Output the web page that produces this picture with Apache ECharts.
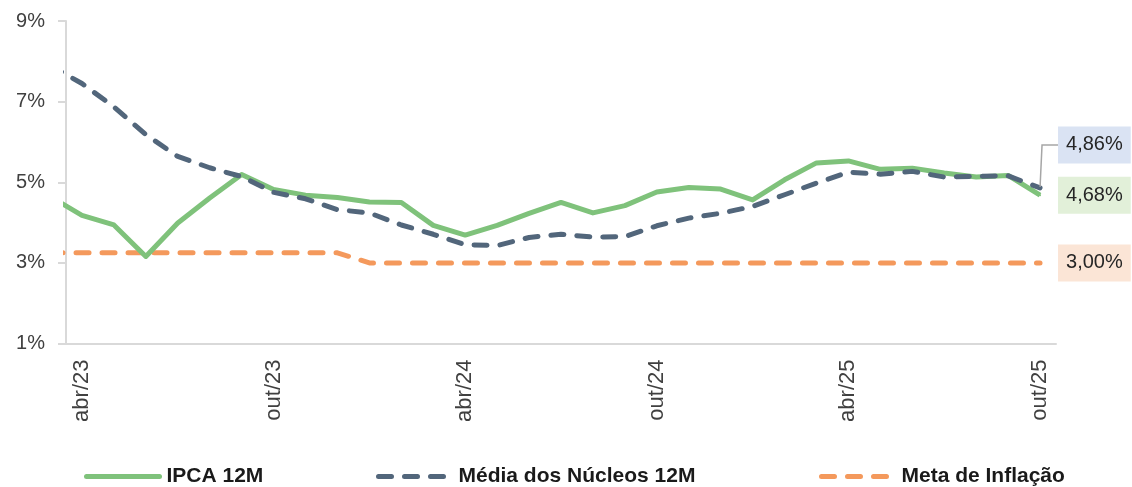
<!DOCTYPE html>
<html>
<head>
<meta charset="utf-8">
<script src="https://cdn.jsdelivr.net/npm/echarts@6/dist/echarts.min.js"></script>
<style>
    html, body { margin: 0; padding: 0; background: #fff; }
    #chart { width: 1132px; height: 487px; }
</style>
</head>
<body>
<div id="chart"></div>
<script>
    // meses do eixo (abr/23 .. out/25)
    const months = ['abr/23', 'mai/23', 'jun/23', 'jul/23', 'ago/23', 'set/23', 'out/23', 'nov/23', 'dez/23',
        'jan/24', 'fev/24', 'mar/24', 'abr/24', 'mai/24', 'jun/24', 'jul/24', 'ago/24', 'set/24', 'out/24', 'nov/24', 'dez/24',
        'jan/25', 'fev/25', 'mar/25', 'abr/25', 'mai/25', 'jun/25', 'jul/25', 'ago/25', 'set/25', 'out/25'];

    const ipca = [4.18, 3.94, 3.16, 3.99, 4.61, 5.19, 4.82, 4.68, 4.62, 4.51, 4.50, 3.93, 3.69, 3.93, 4.23, 4.50,
        4.24, 4.42, 4.76, 4.87, 4.83, 4.56, 5.06, 5.48, 5.53, 5.32, 5.35, 5.23, 5.13, 5.17, 4.68];
    const nucleos = [7.45, 6.87, 6.18, 5.64, 5.36, 5.14, 4.75, 4.59, 4.32, 4.24, 3.94, 3.71, 3.45, 3.43, 3.63, 3.71,
        3.64, 3.65, 3.92, 4.11, 4.23, 4.40, 4.69, 4.98, 5.25, 5.20, 5.27, 5.13, 5.15, 5.16, 4.86];
    const meta = [3.25, 3.25, 3.25, 3.25, 3.25, 3.25, 3.25, 3.25, 3.25,
        3.00, 3.00, 3.00, 3.00, 3.00, 3.00, 3.00, 3.00, 3.00, 3.00, 3.00, 3.00,
        3.00, 3.00, 3.00, 3.00, 3.00, 3.00, 3.00, 3.00, 3.00, 3.00];

    // mar/23 (fora do eixo, a linha é cortada na borda)
    const ipcaMar23 = 4.65;
    const nucleosMar23 = 7.89;
    const metaMar23 = 3.25;

    const yTicks = [1, 9, 2]; // min, max, intervalo

    const font = 'Liberation Sans';

    function buildData(first, arr, labelBg) {
        let d = [[-1, first]];
        arr.forEach((v, i) => {
            if (i === arr.length - 1) {
                d.push({
                    value: [i, v],
                    symbol: 'circle',
                    symbolSize: 2,
                    label: { show: true, backgroundColor: labelBg }
                });
            } else {
                d.push([i, v]);
            }
        });
        return d;
    }

    let endLabel = {
        show: false,
        position: 'right',
        distance: 17,
        formatter: p => p.value[1].toFixed(2).replace('.', ',') + '%',
        fontFamily: font,
        fontSize: 20,
        lineHeight: 21,
        color: '#262626',
        padding: [8, 8, 8, 8]
    };

    let chart = echarts.init(document.getElementById('chart'));

    let legendBase = {
        top: 466,
        itemWidth: 73,
        itemHeight: 14,
        padding: 0,
        itemStyle: { opacity: 0 },
        lineStyle: { width: 5, cap: 'round' },
        textStyle: { fontFamily: font, fontSize: 21, fontWeight: 'bold', color: '#1a1a1a', padding: [0, 0, 0, 2] }
    };

    let option = {
        animation: false,
        textStyle: { fontFamily: font },
        grid: { left: 66, top: 21, right: 76, bottom: 143.5 },
        legend: [
            Object.assign({ data: ['IPCA 12M'], left: 84 }, legendBase),
            Object.assign({ data: ['Média dos Núcleos 12M'], left: 376 }, legendBase),
            Object.assign({ data: ['Meta de Inflação'], left: 819 }, legendBase)
        ],
        xAxis: [
            {
                type: 'category',
                data: months,
                boundaryGap: true,
                axisLine: { onZero: false, lineStyle: { color: '#d9d9d9', width: 2 } },
                axisTick: { interval: 2, length: 7, lineStyle: { color: '#d9d9d9', width: 2 } },
                axisLabel: { interval: 5, rotate: 90, margin: 16, fontSize: 22, color: '#404040' },
                splitLine: { show: false }
            },
            {
                type: 'value',
                min: -0.5,
                max: 30.5,
                show: false
            }
        ],
        yAxis: {
            type: 'value',
            min: yTicks[0],
            max: yTicks[1],
            interval: yTicks[2],
            axisLine: { show: true, onZero: false, lineStyle: { color: '#d9d9d9', width: 2 } },
            axisTick: { show: true, length: 8, lineStyle: { color: '#d9d9d9', width: 2 } },
            axisLabel: { formatter: '{value}%', margin: 21, fontSize: 20, color: '#404040' },
            splitLine: { show: false }
        },
        series: [
            {
                name: 'Meta de Inflação',
                type: 'line',
                xAxisIndex: 1,
                symbol: 'none',
                showSymbol: true,
                showAllSymbol: true,
                color: '#f4995c',
                lineStyle: { color: '#f4995c', width: 5, type: [13, 13], cap: 'round' },
                label: endLabel,
                data: buildData(metaMar23, meta, '#fbe5d6')
            },
            {
                name: 'IPCA 12M',
                type: 'line',
                xAxisIndex: 1,
                symbol: 'none',
                showSymbol: true,
                showAllSymbol: true,
                color: '#7fc27b',
                lineStyle: { color: '#7fc27b', width: 5, join: 'round' },
                label: endLabel,
                data: buildData(ipcaMar23, ipca, '#e2f0d9')
            },
            {
                name: 'Média dos Núcleos 12M',
                type: 'line',
                xAxisIndex: 1,
                symbol: 'none',
                showSymbol: true,
                showAllSymbol: true,
                color: '#52667b',
                lineStyle: { color: '#52667b', width: 5, type: [13, 13], cap: 'round' },
                label: endLabel,
                labelLayout: { dy: -43 },
                labelLine: { show: true, length2: 16, lineStyle: { color: '#a6a6a6', width: 1.5 } },
                data: buildData(nucleosMar23, nucleos, '#dae3f3')
            }
        ]
    };

    chart.setOption(option);
</script>
</body>
</html>
